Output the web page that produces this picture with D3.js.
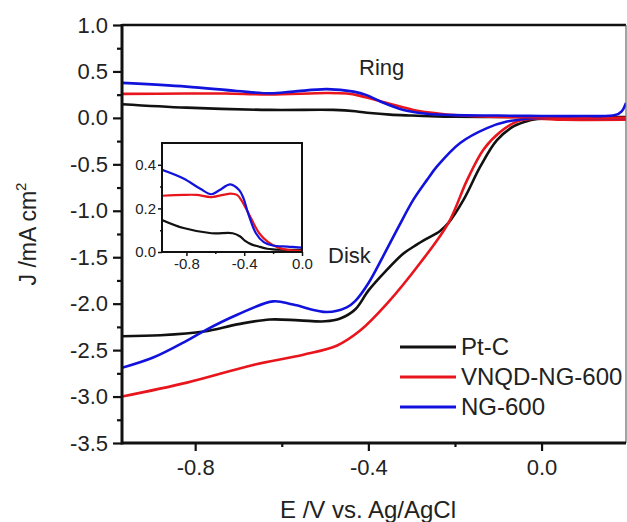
<!DOCTYPE html>
<html>
<head>
<meta charset="utf-8">
<script src="https://cdn.jsdelivr.net/npm/d3@7"></script>
<style>
  body { margin: 0; background: #fff; }
  text { font-family: "Liberation Sans", Arial, sans-serif; fill: #222; }
</style>
</head>
<body>
<svg id="chart" width="627" height="522"></svg>
<script>
// ring current (upper curves)
const ptcRingE = [-0.969, -0.82, -0.627, -0.48, -0.43, -0.396, -0.35, -0.30, -0.241, -0.20, -0.10, 0.0, 0.195];
const ptcRingJ = [0.147, 0.11, 0.086, 0.086, 0.072, 0.052, 0.035, 0.025, 0.015, 0.012, 0.01, 0.01, 0.01];
const vnqdRingE = [-0.969, -0.82, -0.73, -0.627, -0.496, -0.45, -0.419, -0.357, -0.296, -0.234, -0.164, -0.10, 0.0, 0.10, 0.195];
const vnqdRingJ = [0.258, 0.262, 0.262, 0.252, 0.268, 0.262, 0.237, 0.16, 0.086, 0.045, 0.02, 0.01, 0.005, 0.0, 0.0];
const ngRingE = [-0.969, -0.82, -0.704, -0.627, -0.573, -0.496, -0.434, -0.404, -0.372, -0.319, -0.265, -0.203, -0.10, 0.0, 0.10, 0.17, 0.185, 0.195];
const ngRingJ = [0.377, 0.337, 0.29, 0.265, 0.283, 0.31, 0.283, 0.245, 0.176, 0.086, 0.045, 0.03, 0.025, 0.02, 0.02, 0.03, 0.07, 0.16];

// disk current (lower curves)
const ptcDiskE = [-0.969, -0.88, -0.78, -0.70, -0.627, -0.56, -0.50, -0.465, -0.43, -0.40, -0.36, -0.319, -0.29, -0.265, -0.235, -0.215, -0.18, -0.141, -0.103, -0.064, -0.03, 0.0, 0.10, 0.195];
const ptcDiskJ = [-2.35, -2.34, -2.30, -2.22, -2.17, -2.18, -2.19, -2.16, -2.06, -1.86, -1.65, -1.46, -1.37, -1.30, -1.22, -1.13, -0.88, -0.52, -0.24, -0.09, -0.03, -0.01, 0.0, 0.0];
const vnqdDiskE = [-0.969, -0.819, -0.666, -0.55, -0.472, -0.419, -0.357, -0.28, -0.215, -0.172, -0.134, -0.095, -0.057, -0.018, 0.05, 0.195];
const vnqdDiskJ = [-3.00, -2.85, -2.66, -2.55, -2.45, -2.29, -2.00, -1.56, -1.13, -0.67, -0.34, -0.15, -0.04, -0.01, -0.02, -0.02];
const ngDiskE = [-0.969, -0.897, -0.82, -0.782, -0.703, -0.62, -0.574, -0.495, -0.45, -0.43, -0.40, -0.366, -0.33, -0.296, -0.265, -0.241, -0.188, -0.126, -0.08, -0.034, 0.0, 0.10, 0.195];
const ngDiskJ = [-2.69, -2.58, -2.40, -2.30, -2.12, -1.975, -2.01, -2.09, -2.04, -1.97, -1.78, -1.49, -1.17, -0.88, -0.67, -0.52, -0.27, -0.11, -0.04, -0.01, 0.0, 0.0, 0.0];

const seriesNames = ["Pt-C", "VNQD-NG-600", "NG-600"];
const seriesColors = ["#111111", "#e8161c", "#1212dd"];

const xTicks = [-0.8, -0.4, 0.0];
const xMinor = [-0.6, -0.2];
const yTicks = [1.0, 0.5, 0.0, -0.5, -1.0, -1.5, -2.0, -2.5, -3.0, -3.5];
const yMinor = [0.75, 0.25, -0.25, -0.75, -1.25, -1.75, -2.25, -2.75, -3.25];
const insetXTicks = [-0.8, -0.4, 0.0];
const insetXMinor = [-0.6, -0.2];
const insetYTicks = [0.0, 0.2, 0.4];
const insetYMinor = [0.1, 0.3];

const zip = (E, J) => E.map((e, i) => [e, J[i]]);
const ringData = [zip(ptcRingE, ptcRingJ), zip(vnqdRingE, vnqdRingJ), zip(ngRingE, ngRingJ)];
const diskData = [zip(ptcDiskE, ptcDiskJ), zip(vnqdDiskE, vnqdDiskJ), zip(ngDiskE, ngDiskJ)];

const svg = d3.select("#chart");
const fmt = d => d.toFixed(1);

// main plot
const pL = 122, pR = 626, pT = 25, pB = 443;
const x = d3.scaleLinear().domain([-0.969, 0.195]).range([pL, pR]);
const y = d3.scaleLinear().domain([-3.5, 1.0]).range([pB, pT]);

svg.append("clipPath").attr("id", "clipMain")
  .append("rect").attr("x", pL).attr("y", pT).attr("width", pR - pL).attr("height", pB - pT);

const line = d3.line().x(d => x(d[0])).y(d => y(d[1])).curve(d3.curveCatmullRom.alpha(0.5));

const curves = svg.append("g").attr("clip-path", "url(#clipMain)");
[diskData, ringData].forEach(group => {
  group.forEach((data, i) => {
    curves.append("path")
      .datum(data)
      .attr("fill", "none")
      .attr("stroke", seriesColors[i])
      .attr("stroke-width", 2.6)
      .attr("d", line);
  });
});

// axes
svg.append("g").attr("transform", `translate(0,${pB})`)
  .call(d3.axisBottom(x).tickValues(xTicks).tickFormat(fmt).tickSize(8).tickPadding(8));
svg.append("g").attr("transform", `translate(0,${pB})`)
  .call(d3.axisBottom(x).tickValues(xMinor).tickFormat("").tickSize(4));
svg.append("g").attr("transform", `translate(${pL},0)`)
  .call(d3.axisLeft(y).tickValues(yTicks).tickFormat(fmt).tickSize(9).tickPadding(5));
svg.append("g").attr("transform", `translate(${pL},0)`)
  .call(d3.axisLeft(y).tickValues(yMinor).tickFormat("").tickSize(5));

svg.selectAll(".domain").remove();
svg.selectAll(".tick line").attr("stroke", "#111").attr("stroke-width", 2.2);
svg.selectAll(".tick text").style("font-size", "22px").attr("fill", "#222")
  .style("font-family", "'Liberation Sans', Arial, sans-serif");

// frame
svg.append("line").attr("x1", pL).attr("x2", pR).attr("y1", pT).attr("y2", pT)
  .attr("stroke", "#111").attr("stroke-width", 2.6);
svg.append("line").attr("x1", pR).attr("x2", pR).attr("y1", pT).attr("y2", pB)
  .attr("stroke", "#666").attr("stroke-width", 1.2);
svg.append("line").attr("x1", pL).attr("x2", pR).attr("y1", pB).attr("y2", pB)
  .attr("stroke", "#111").attr("stroke-width", 3);
svg.append("line").attr("x1", pL).attr("x2", pL).attr("y1", pT - 1).attr("y2", pB + 1.5)
  .attr("stroke", "#111").attr("stroke-width", 3);

// axis titles
svg.append("text").attr("x", 368).attr("y", 518).attr("text-anchor", "middle")
  .style("font-size", "24px").text("E /V vs. Ag/AgCl");
const yt = svg.append("text").attr("transform", "translate(36,234) rotate(-90)")
  .attr("text-anchor", "middle").style("font-size", "23px");
yt.append("tspan").text("J /mA cm");
yt.append("tspan").attr("dy", -10).style("font-size", "15px").text("2");

// annotations
svg.append("text").attr("x", 359).attr("y", 75).style("font-size", "22px").text("Ring");
svg.append("text").attr("x", 328).attr("y", 263).style("font-size", "22px").text("Disk");

// legend
const legend = svg.append("g");
seriesNames.forEach((name, i) => {
  const ly = 347 + i * 30;
  legend.append("line").attr("x1", 400).attr("x2", 456).attr("y1", ly).attr("y2", ly)
    .attr("stroke", seriesColors[i]).attr("stroke-width", 3);
  legend.append("text").attr("x", 461).attr("y", ly + 8).style("font-size", "24px").text(name);
});

// inset
const il = 162, ir = 302, it = 143, ib = 252;
const ix = d3.scaleLinear().domain([-0.969, 0.0]).range([il, ir]);
const iy = d3.scaleLinear().domain([0, 0.5]).range([ib, it]);
const inset = svg.append("g");
inset.append("rect").attr("x", il).attr("y", it).attr("width", ir - il).attr("height", ib - it)
  .attr("fill", "#fff").attr("stroke", "none");
inset.append("clipPath").attr("id", "clipInset")
  .append("rect").attr("x", il).attr("y", it).attr("width", ir - il).attr("height", ib - it);
const iline = d3.line().x(d => ix(d[0])).y(d => iy(d[1])).curve(d3.curveCatmullRom.alpha(0.5));
const icurves = inset.append("g").attr("clip-path", "url(#clipInset)");
ringData.forEach((data, i) => {
  icurves.append("path")
    .datum(data)
    .attr("fill", "none")
    .attr("stroke", seriesColors[i])
    .attr("stroke-width", 2.2)
    .attr("d", iline);
});
inset.append("g").attr("transform", `translate(0,${ib})`)
  .call(d3.axisBottom(ix).tickValues(insetXTicks).tickFormat(fmt).tickSize(4).tickPadding(2));
inset.append("g").attr("transform", `translate(0,${ib})`)
  .call(d3.axisBottom(ix).tickValues(insetXMinor).tickFormat("").tickSize(2));
inset.append("g").attr("transform", `translate(${il},0)`)
  .call(d3.axisLeft(iy).tickValues(insetYTicks).tickFormat(fmt).tickSize(4).tickPadding(2));
inset.append("g").attr("transform", `translate(${il},0)`)
  .call(d3.axisLeft(iy).tickValues(insetYMinor).tickFormat("").tickSize(2));
inset.selectAll(".domain").remove();
inset.selectAll(".tick line").attr("stroke", "#111").attr("stroke-width", 1.5);
inset.selectAll(".tick text").style("font-size", "15px").attr("fill", "#333")
  .style("font-family", "'Liberation Sans', Arial, sans-serif");
inset.append("rect").attr("x", il).attr("y", it).attr("width", ir - il).attr("height", ib - it)
  .attr("fill", "none").attr("stroke", "#111").attr("stroke-width", 2);
</script>
</body>
</html>
